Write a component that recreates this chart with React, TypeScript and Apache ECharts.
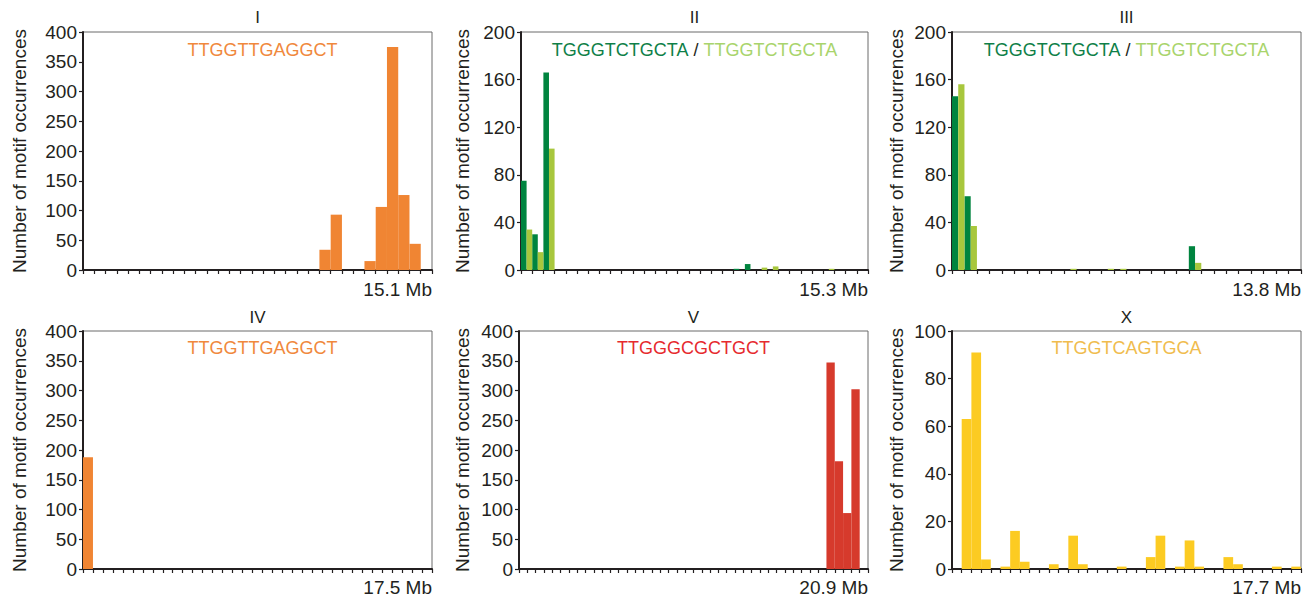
import React, { useEffect, useRef } from "react";
import * as echarts from "echarts";

// ---- Data (number of motif occurrences per 0.5 Mb bin) ----
const chrNames = ["I", "II", "III", "IV", "V", "X"];
const chrLengths = ["15.1 Mb", "15.3 Mb", "13.8 Mb", "17.5 Mb", "20.9 Mb", "17.7 Mb"];
const binCounts = [31, 31, 28, 35, 42, 36];
const yMax = [400, 200, 200, 400, 400, 100];
const yInterval = [50, 40, 40, 50, 50, 20];

const chrI = [0,0,0,0,0,0,0,0,0,0, 0,0,0,0,0,0,0,0,0,0, 0,34,93,0,0,15,106,375,126,44, 0];
const chrIIdark = [75,30,166,0,0,0,0,0,0,0, 0,0,0,0,0,0,0,0,0,1, 5,0,0,0,0,0,0,0,0,0, 0];
const chrIIlight = [34,15,102,0,0,0,0,0,0,0, 0,0,0,0,0,0,0,0,0,0, 0,2,3,0,0,0,0,1,0,0, 0];
const chrIIIdark = [146,62,0,0,0,0,0,0,0,0, 0,0,0,0,0,0,0,0,0,20, 0,0,0,0,0,0,0,0];
const chrIIIlight = [156,37,0,0,0,0,0,0,0,1, 0,0,1,1,0,0,0,0,0,6, 0,0,0,0,0,0,0,0];
const chrIV = [188,0,0,0,0,0,0,0,0,0, 0,0,0,0,0,0,0,0,0,0, 0,0,0,0,0,0,0,0,0,0, 0,0,0,0,0];
const chrV = [0,0,0,0,0,0,0,0,0,0, 0,0,0,0,0,0,0,0,0,0, 0,0,0,0,0,0,0,0,0,0, 0,0,0,0,0,0,0,347,181,94, 302,0];
const chrX = [0,63,91,4,0,1,16,3,0,0, 2,0,14,2,0,0,0,1,0,0, 5,14,0,1,12,1,0,0,5,2, 0,0,0,1,0,1];

const motifI = "TTGGTTGAGGCT";
const motifDark = "TGGGTCTGCTA";
const motifLight = "TTGGTCTGCTA";
const motifV = "TTGGGCGCTGCT";
const motifX = "TTGGTCAGTGCA";

// ---- Styles ----
const FONT = "'Liberation Sans', Arial, Helvetica, sans-serif";
const TXT = "#231F20";
const ORANGE = "#F08533";
const ORANGE_TXT = "#F0883C";
const DARK_GREEN = "#00843F";
const LIGHT_GREEN = "#A8C73D";
const DARK_GREEN_TXT = "#0F7F48";
const LIGHT_GREEN_TXT = "#A9D46C";
const RED = "#D63A2C";
const RED_TXT = "#E62A2E";
const YELLOW = "#FCCB22";
const YELLOW_TXT = "#F0BC4E";

const grids = [
  { left: 83, top: 32, width: 349, height: 238, nameGap: 54 },
  { left: 521, top: 32, width: 347, height: 238, nameGap: 49 },
  { left: 952, top: 32, width: 349, height: 238, nameGap: 46 },
  { left: 83, top: 331, width: 349, height: 238, nameGap: 54 },
  { left: 519, top: 331, width: 349, height: 238, nameGap: 47 },
  { left: 952, top: 331, width: 349, height: 238, nameGap: 46 },
];

function binLabels(n: number): string[] {
  return Array.from({ length: n }, (_, i) => (i * 0.5).toFixed(1));
}

export default function App() {
  const ref = useRef<HTMLDivElement>(null);
  useEffect(() => {
    if (!ref.current) return;
    const chart = echarts.init(ref.current, undefined, { renderer: "svg" });

    const grid = grids.map((g) => ({
      left: g.left,
      top: g.top,
      width: g.width,
      height: g.height,
      show: true,
      borderColor: "#6b6b6b",
      borderWidth: 1,
      backgroundColor: "transparent",
      containLabel: false,
    }));

    const xAxis = binCounts.map((n, i) => ({
      type: "category",
      gridIndex: i,
      data: binLabels(n),
      boundaryGap: true,
      axisLine: { show: true, lineStyle: { color: TXT, width: 2 } },
      axisTick: { show: true, interval: 0, length: 4, lineStyle: { color: TXT, width: 1.2 } },
      axisLabel: { show: false },
      splitLine: { show: false },
    }));

    const yAxis = yMax.map((m, i) => ({
      type: "value",
      gridIndex: i,
      min: 0,
      max: m,
      interval: yInterval[i],
      name: "Number of motif occurrences",
      nameLocation: "middle",
      nameGap: grids[i].nameGap,
      nameTextStyle: { fontFamily: FONT, fontSize: 19, color: TXT },
      axisLine: { show: true, lineStyle: { color: TXT, width: 2 } },
      axisTick: { show: true, length: 4, lineStyle: { color: TXT, width: 1.2 } },
      axisLabel: { fontFamily: FONT, fontSize: 19, color: TXT, margin: 6 },
      splitLine: { show: false },
    }));

    const bar = (idx: number, data: number[], color: string) => ({
      type: "bar",
      xAxisIndex: idx,
      yAxisIndex: idx,
      data,
      barCategoryGap: "0%",
      barGap: "0%",
      itemStyle: { color },
      silent: true,
    });

    const series = [
      bar(0, chrI, ORANGE),
      bar(1, chrIIdark, DARK_GREEN),
      bar(1, chrIIlight, LIGHT_GREEN),
      bar(2, chrIIIdark, DARK_GREEN),
      bar(2, chrIIIlight, LIGHT_GREEN),
      bar(3, chrIV, ORANGE),
      bar(4, chrV, RED),
      bar(5, chrX, YELLOW),
    ];

    const motifs: { text: string; rich?: boolean; color?: string }[] = [
      { text: motifI, color: ORANGE_TXT },
      { text: `{a|${motifDark}}{s| / }{b|${motifLight}}`, rich: true },
      { text: `{a|${motifDark}}{s| / }{b|${motifLight}}`, rich: true },
      { text: motifI, color: ORANGE_TXT },
      { text: motifV, color: RED_TXT },
      { text: motifX, color: YELLOW_TXT },
    ];

    const graphic: any[] = [];
    grids.forEach((g, i) => {
      const cx = g.left + g.width / 2;
      const row2 = i >= 3;
      graphic.push({
        type: "text",
        x: cx,
        y: row2 ? 317 : 17,
        style: {
          text: chrNames[i],
          fontFamily: FONT,
          fontSize: 17,
          fill: TXT,
          align: "center",
          verticalAlign: "middle",
        },
      });
      const m = motifs[i];
      graphic.push({
        type: "text",
        x: cx + (i === 0 || i === 3 ? 5 : 0),
        y: row2 ? 348 : 50,
        style: m.rich
          ? {
              text: m.text,
              align: "center",
              verticalAlign: "middle",
              rich: {
                a: { fontFamily: FONT, fontSize: 18, fill: DARK_GREEN_TXT },
                s: { fontFamily: FONT, fontSize: 18, fill: TXT },
                b: { fontFamily: FONT, fontSize: 18, fill: LIGHT_GREEN_TXT },
              },
            }
          : {
              text: m.text,
              fontFamily: FONT,
              fontSize: 18,
              fill: m.color,
              align: "center",
              verticalAlign: "middle",
            },
      });
      graphic.push({
        type: "text",
        x: g.left + g.width,
        y: row2 ? 587 : 289,
        style: {
          text: chrLengths[i],
          fontFamily: FONT,
          fontSize: 19,
          fill: TXT,
          align: "right",
          verticalAlign: "middle",
        },
      });
    });

    chart.setOption({
      animation: false,
      backgroundColor: "#ffffff",
      grid,
      xAxis,
      yAxis,
      series,
      graphic,
    });
    return () => chart.dispose();
  }, []);

  return (
    <div
      ref={ref}
      style={{ position: "fixed", left: 0, top: 0, width: 1309, height: 598, background: "#fff" }}
    />
  );
}
